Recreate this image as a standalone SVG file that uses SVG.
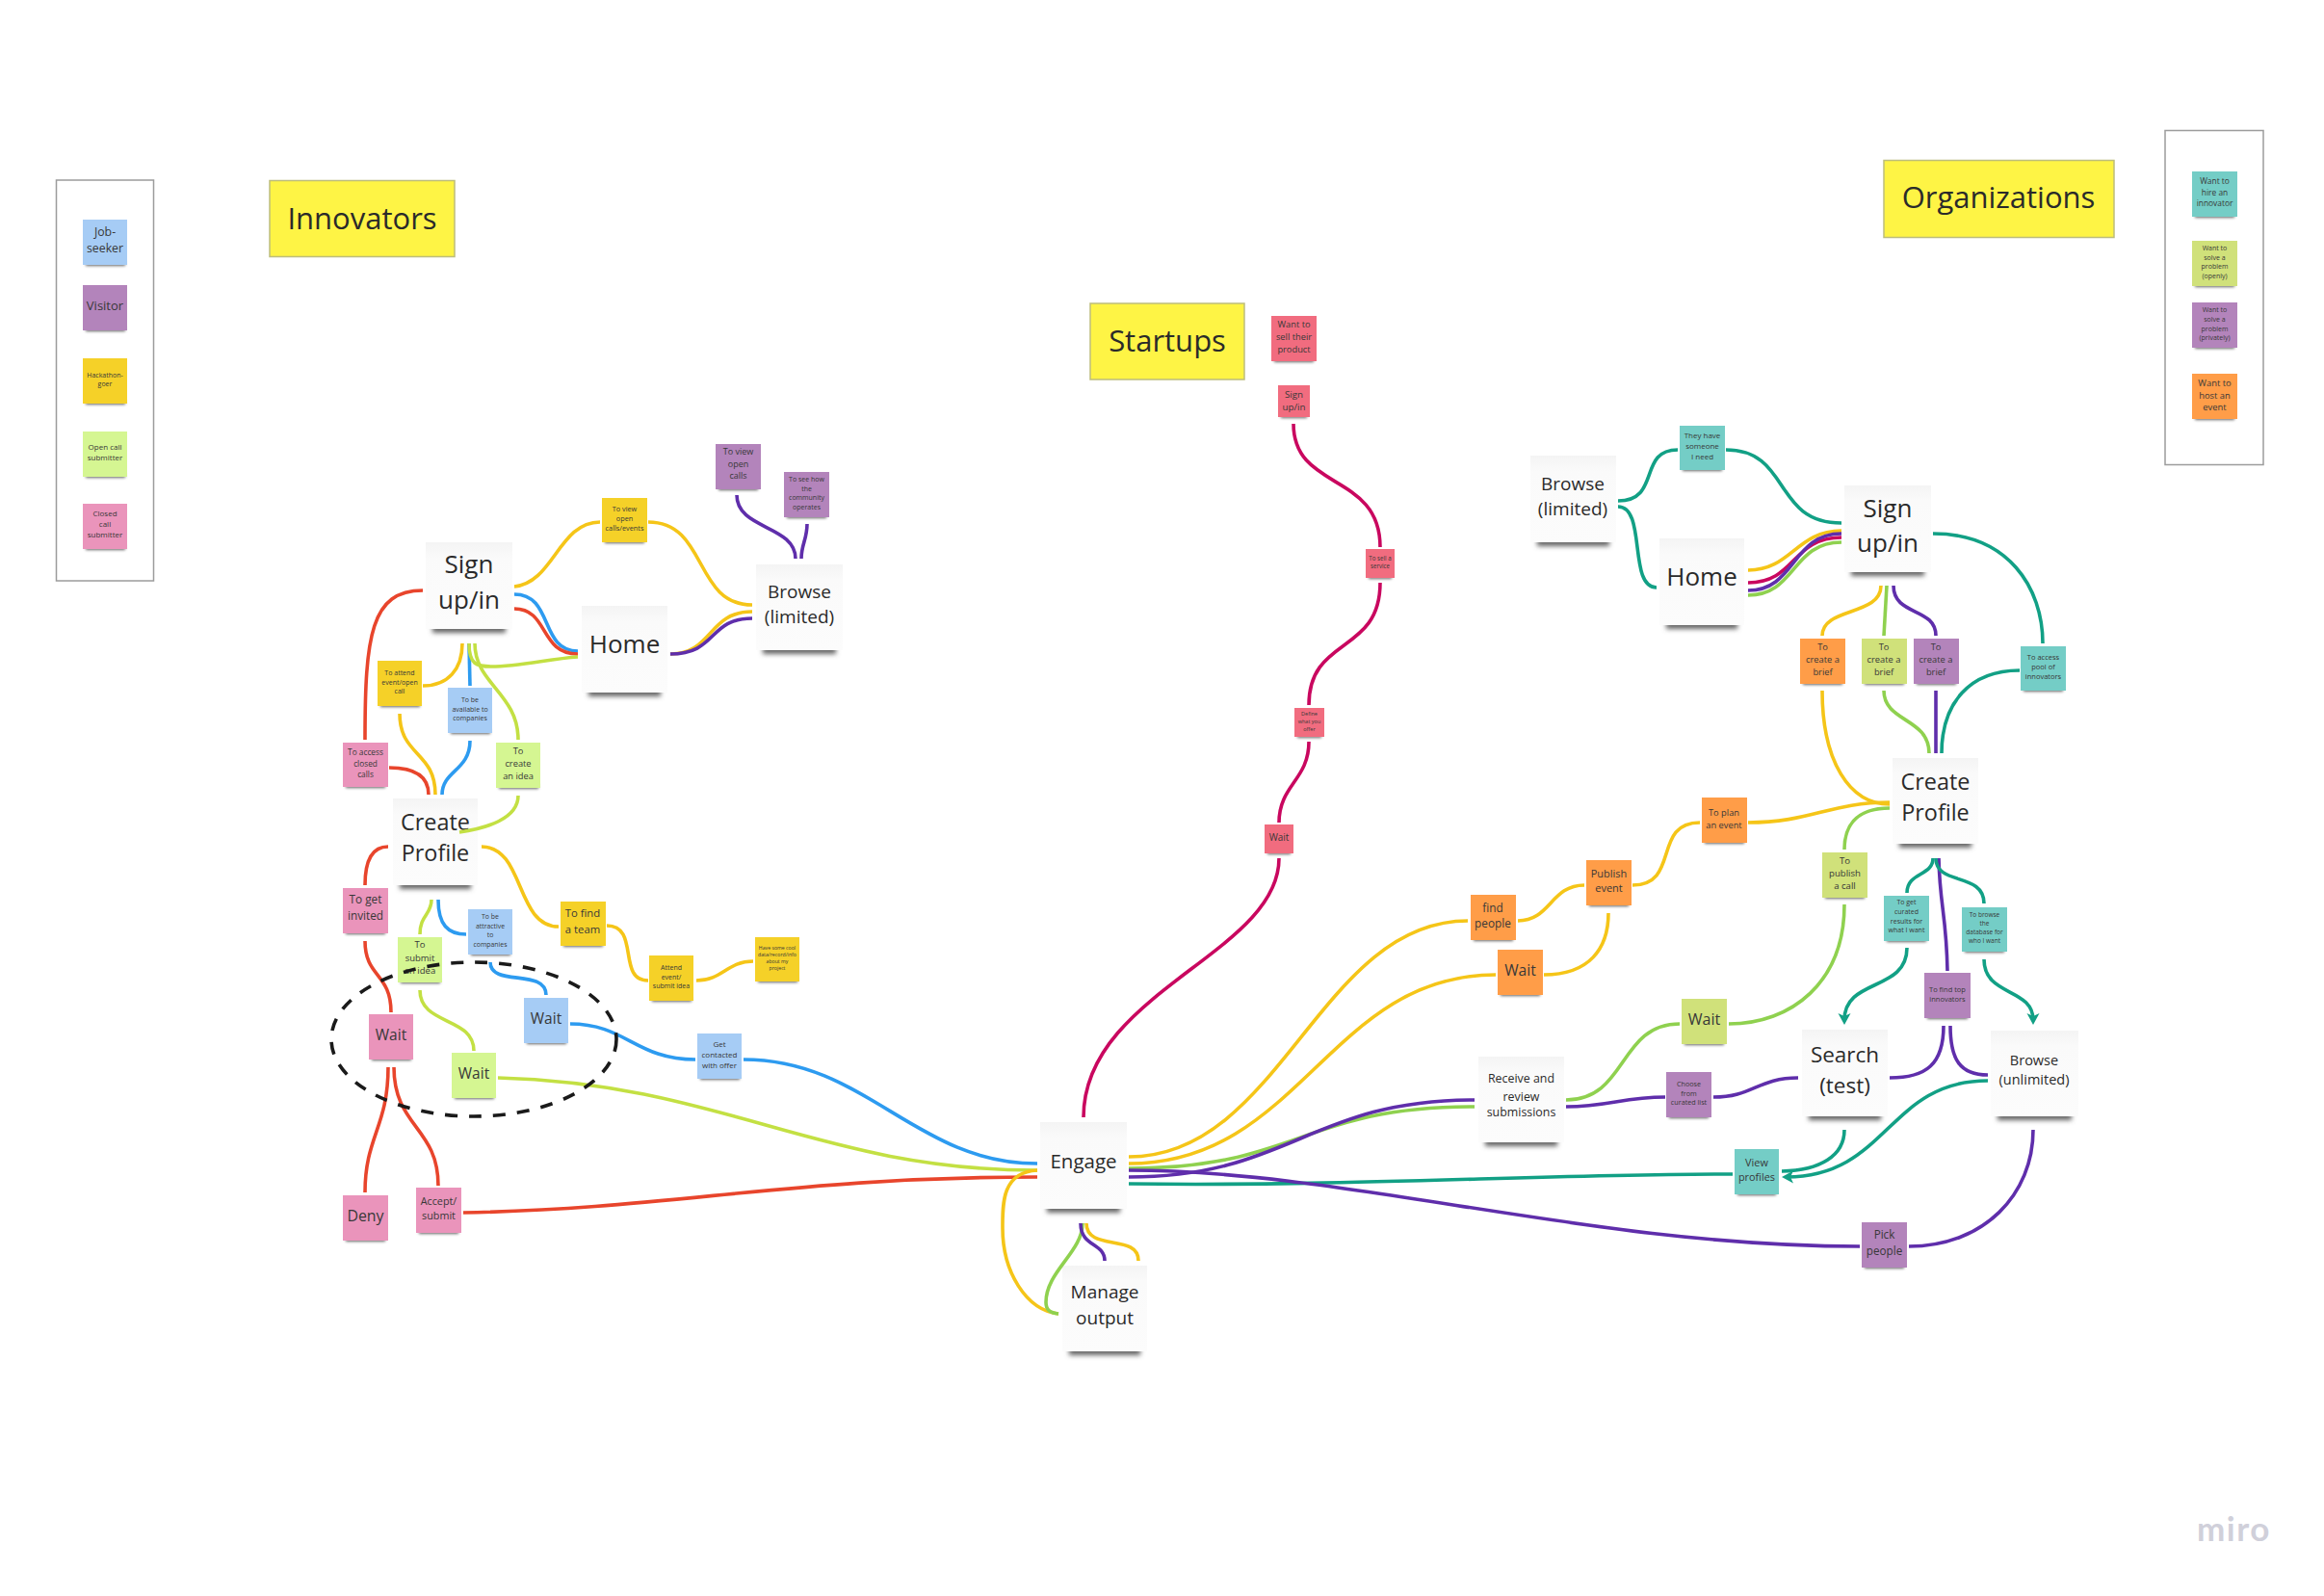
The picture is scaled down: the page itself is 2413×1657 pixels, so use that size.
<svg xmlns="http://www.w3.org/2000/svg" width="2413" height="1657" viewBox="0 0 2413 1657">
<style>
text{font-family:"Open Sans","Noto Sans","DejaVu Sans",sans-serif;text-anchor:middle;fill:#2a2a2a}
.st text{fill:#383838}
.sh{fill:#666;filter:url(#b)}
.sh2{fill:#666;filter:url(#b2)}
.c{fill:none;stroke-width:3.6;stroke-linecap:butt}
.y{stroke:#f5c518}.bl{stroke:#2d9bf0}.r{stroke:#e8452c}.l{stroke:#c3e043}.g{stroke:#8fd14f}.p{stroke:#5f2eab}.t{stroke:#12a085}.m{stroke:#c9075f}
.fb{fill:#a6ccf5}.fv{fill:#b384bb}.fy{fill:#f5d128}.fg{fill:#d5f692}.fk{fill:#ea94bb}.fc{fill:#f16c7f}.ft{fill:#74cdc6}.fl{fill:#d0e17a}.fo{fill:#ff9d48}
.w{fill:url(#wg)}
.title{fill:#fef445;stroke:#bdbd7c;stroke-width:1.5}
.leg{fill:#fff;stroke:#9c9c9c;stroke-width:1.5}
</style>
<defs>
<filter id="b" x="-20%" y="-200%" width="140%" height="500%"><feGaussianBlur stdDeviation="1.5"/></filter>
<filter id="b2" x="-20%" y="-200%" width="140%" height="500%"><feGaussianBlur stdDeviation="2.8"/></filter>
<linearGradient id="wg" x1="0" y1="0" x2="0" y2="1"><stop offset="0" stop-color="#f4f4f4"/><stop offset=".18" stop-color="#fafafa"/><stop offset="1" stop-color="#fcfcfc"/></linearGradient>
<marker id="arr" markerUnits="userSpaceOnUse" markerWidth="14" markerHeight="14" refX="7" refY="6.5" orient="auto"><path d="M0 0L12 6.5L0 13L3 6.5Z" fill="#12a085"/></marker>
</defs>
<rect width="2413" height="1657" fill="#fff"/>

<g id="legend-innovators"><rect class="leg" x="58.5" y="187" width="101" height="416"/></g>
<g id="legend-organizations"><rect class="leg" x="2248" y="135.5" width="102" height="347"/></g>
<g id="title-innovators"><rect class="title" x="280" y="187.5" width="192" height="79"/><text x="376" y="237.5" font-size="31">Innovators</text></g>
<g id="title-startups"><rect class="title" x="1132" y="315" width="160" height="79"/><text x="1212" y="365" font-size="31">Startups</text></g>
<g id="title-organizations"><rect class="title" x="1956" y="166.5" width="239" height="80"/><text x="2075" y="216" font-size="31">Organizations</text></g>

<g class="st">
<g id="leg-jobseeker"><rect class="sh" x="89" y="272" width="41" height="4"/><rect class="fb" x="86" y="228" width="46" height="47"/><text font-size="12.3"><tspan x="109" y="245">Job-</tspan><tspan x="109" y="262">seeker</tspan></text></g>
<g id="leg-visitor"><rect class="sh" x="89" y="340" width="41" height="4"/><rect class="fv" x="86" y="296" width="46" height="47"/><text font-size="13" x="109" y="322">Visitor</text></g>
<g id="leg-hackathon"><rect class="sh" x="89" y="416" width="41" height="4"/><rect class="fy" x="86" y="372" width="46" height="47"/><text font-size="7"><tspan x="109" y="392">Hackathon-</tspan><tspan x="109" y="401">goer</tspan></text></g>
<g id="leg-open"><rect class="sh" x="89" y="492" width="41" height="4"/><rect class="fg" x="86" y="448" width="46" height="47"/><text font-size="8"><tspan x="109" y="467">Open call</tspan><tspan x="109" y="478">submitter</tspan></text></g>
<g id="leg-closed"><rect class="sh" x="89" y="567" width="41" height="4"/><rect class="fk" x="86" y="523" width="46" height="47"/><text font-size="8"><tspan x="109" y="536">Closed</tspan><tspan x="109" y="547">call</tspan><tspan x="109" y="558">submitter</tspan></text></g>

<g id="i-view-calls"><rect class="sh" x="628" y="560" width="41" height="4"/><rect class="fy" x="625" y="517" width="47" height="46"/><text font-size="7.3"><tspan x="648.5" y="531">To view</tspan><tspan x="648.5" y="541">open</tspan><tspan x="648.5" y="551">calls/events</tspan></text></g>
<g id="i-see-community"><rect class="sh" x="817" y="534" width="41" height="4"/><rect class="fv" x="814" y="490" width="47" height="47"/><text font-size="7"><tspan x="837.5" y="500">To see how</tspan><tspan x="837.5" y="509.5">the</tspan><tspan x="837.5" y="519">community</tspan><tspan x="837.5" y="529">operates</tspan></text></g>
<g id="i-view-open"><rect class="sh" x="746" y="505" width="41" height="4"/><rect class="fv" x="743" y="461" width="47" height="47"/><text font-size="9"><tspan x="766.5" y="472">To view</tspan><tspan x="766.5" y="484.5">open</tspan><tspan x="766.5" y="497">calls</tspan></text></g>
<g id="i-attend"><rect class="sh" x="395" y="730" width="41" height="4"/><rect class="fy" x="392" y="686" width="46" height="47"/><text font-size="7"><tspan x="415" y="701">To attend</tspan><tspan x="415" y="711">event/open</tspan><tspan x="415" y="720">call</tspan></text></g>
<g id="i-available"><rect class="sh" x="468" y="758" width="41" height="4"/><rect class="fb" x="465" y="714" width="46" height="47"/><text font-size="7"><tspan x="488" y="729">To be</tspan><tspan x="488" y="739">available to</tspan><tspan x="488" y="748">companies</tspan></text></g>
<g id="i-create-idea"><rect class="sh" x="518" y="815" width="41" height="4"/><rect class="fg" x="515" y="771" width="46" height="47"/><text font-size="9.3"><tspan x="538" y="783">To</tspan><tspan x="538" y="796">create</tspan><tspan x="538" y="809">an idea</tspan></text></g>
<g id="i-access"><rect class="sh" x="359" y="814" width="41" height="4"/><rect class="fk" x="356" y="771" width="47" height="46"/><text font-size="8.3"><tspan x="379.5" y="784">To access</tspan><tspan x="379.5" y="796">closed</tspan><tspan x="379.5" y="807">calls</tspan></text></g>
<g id="i-invited"><rect class="sh" x="359" y="966" width="41" height="4"/><rect class="fk" x="356" y="922" width="47" height="47"/><text font-size="11.8"><tspan x="379.5" y="938">To get</tspan><tspan x="379.5" y="955">invited</tspan></text></g>
<g id="i-team"><rect class="sh" x="585" y="979" width="41" height="4"/><rect class="fy" x="582" y="936" width="47" height="46"/><text font-size="11.3"><tspan x="605" y="952">To find</tspan><tspan x="605" y="969">a team</tspan></text></g>
<g id="i-attractive"><rect class="sh" x="489" y="988" width="41" height="4"/><rect class="fb" x="486" y="944" width="46" height="47"/><text font-size="6.9"><tspan x="509" y="954">To be</tspan><tspan x="509" y="964">attractive</tspan><tspan x="509" y="973">to</tspan><tspan x="509" y="983">companies</tspan></text></g>
<g id="i-submit"><rect class="sh" x="416" y="1017" width="41" height="4"/><rect class="fg" x="413" y="973" width="46" height="47"/><text font-size="9.5"><tspan x="436" y="984">To</tspan><tspan x="436" y="998">submit</tspan><tspan x="436" y="1011">an idea</tspan></text></g>
<g id="i-wait-pink"><rect class="sh" x="386" y="1097" width="41" height="4"/><rect class="fk" x="383" y="1053" width="46" height="47"/><text font-size="15.5" x="406" y="1080">Wait</text></g>
<g id="i-wait-blue"><rect class="sh" x="547" y="1080" width="41" height="4"/><rect class="fb" x="544" y="1036" width="46" height="47"/><text font-size="15.5" x="567" y="1063">Wait</text></g>
<g id="i-wait-green"><rect class="sh" x="472" y="1137" width="41" height="4"/><rect class="fg" x="469" y="1093" width="46" height="47"/><text font-size="15.5" x="492" y="1120">Wait</text></g>
<g id="i-attend-event"><rect class="sh" x="677" y="1036" width="41" height="4"/><rect class="fy" x="674" y="992" width="46" height="47"/><text font-size="7"><tspan x="697" y="1007">Attend</tspan><tspan x="697" y="1017">event/</tspan><tspan x="697" y="1026">submit idea</tspan></text></g>
<g id="i-cool"><rect class="sh" x="787" y="1016" width="41" height="4"/><rect class="fy" x="784" y="973" width="46" height="46"/><text font-size="5.2"><tspan x="807" y="986">Have some cool</tspan><tspan x="807" y="993">data/record/info</tspan><tspan x="807" y="1000">about my</tspan><tspan x="807" y="1007">project</tspan></text></g>
<g id="i-contacted"><rect class="sh" x="727" y="1117" width="41" height="4"/><rect class="fb" x="724" y="1073" width="46" height="47"/><text font-size="8"><tspan x="747" y="1087">Get</tspan><tspan x="747" y="1098">contacted</tspan><tspan x="747" y="1109">with offer</tspan></text></g>
<g id="i-deny"><rect class="sh" x="359" y="1285" width="41" height="4"/><rect class="fk" x="356" y="1241" width="47" height="47"/><text font-size="15.9" x="379.5" y="1268">Deny</text></g>
<g id="i-accept"><rect class="sh" x="435" y="1277" width="41" height="4"/><rect class="fk" x="432" y="1233" width="47" height="47"/><text font-size="10.8"><tspan x="455.5" y="1251">Accept/</tspan><tspan x="455.5" y="1266">submit</tspan></text></g>

<g id="s-sell"><rect class="sh" x="1323" y="372" width="41" height="4"/><rect class="fc" x="1320" y="328" width="47" height="47"/><text font-size="9.3"><tspan x="1343.5" y="340">Want to</tspan><tspan x="1343.5" y="353">sell their</tspan><tspan x="1343.5" y="366">product</tspan></text></g>
<g id="s-sign"><rect class="sh" x="1330" y="431" width="27" height="3"/><rect class="fc" x="1327" y="400" width="33" height="33"/><text font-size="9.8"><tspan x="1343.5" y="413">Sign</tspan><tspan x="1343.5" y="426">up/in</tspan></text></g>
<g id="s-service"><rect class="sh" x="1421" y="598" width="24" height="3"/><rect class="fc" x="1418" y="570" width="30" height="30"/><text font-size="6.2"><tspan x="1433" y="582">To sell a</tspan><tspan x="1433" y="590">service</tspan></text></g>
<g id="s-define"><rect class="sh" x="1347" y="763" width="25" height="3"/><rect class="fc" x="1344" y="735" width="31" height="30"/><text font-size="5.5"><tspan x="1359.5" y="743">Define</tspan><tspan x="1359.5" y="751">what you</tspan><tspan x="1359.5" y="758.5">offer</tspan></text></g>
<g id="s-wait"><rect class="sh" x="1316" y="884" width="24" height="3"/><rect class="fc" x="1313" y="856" width="30" height="30"/><text font-size="9.9" x="1328" y="873">Wait</text></g>

<g id="o-leg-hire"><rect class="sh" x="2279" y="222" width="41" height="4"/><rect class="ft" x="2276" y="178" width="47" height="47"/><text font-size="8.4"><tspan x="2299.5" y="191">Want to</tspan><tspan x="2299.5" y="203">hire an</tspan><tspan x="2299.5" y="214">innovator</tspan></text></g>
<g id="o-leg-openly"><rect class="sh" x="2279" y="294" width="41" height="4"/><rect class="fl" x="2276" y="250" width="47" height="47"/><text font-size="7"><tspan x="2299.5" y="260">Want to</tspan><tspan x="2299.5" y="270">solve a</tspan><tspan x="2299.5" y="279">problem</tspan><tspan x="2299.5" y="289">(openly)</tspan></text></g>
<g id="o-leg-private"><rect class="sh" x="2279" y="358" width="41" height="4"/><rect class="fv" x="2276" y="314" width="47" height="47"/><text font-size="7"><tspan x="2299.5" y="324">Want to</tspan><tspan x="2299.5" y="334">solve a</tspan><tspan x="2299.5" y="344">problem</tspan><tspan x="2299.5" y="353">(privately)</tspan></text></g>
<g id="o-leg-host"><rect class="sh" x="2279" y="432" width="41" height="4"/><rect class="fo" x="2276" y="388" width="47" height="47"/><text font-size="9.4"><tspan x="2299.5" y="401">Want to</tspan><tspan x="2299.5" y="414">host an</tspan><tspan x="2299.5" y="426">event</tspan></text></g>

<g id="o-someone"><rect class="sh" x="1747" y="485" width="41" height="4"/><rect class="ft" x="1744" y="442" width="47" height="46"/><text font-size="8"><tspan x="1767.5" y="455">They have</tspan><tspan x="1767.5" y="466">someone</tspan><tspan x="1767.5" y="477">I need</tspan></text></g>
<g id="o-brief-orange"><rect class="sh" x="1872" y="707" width="41" height="4"/><rect class="fo" x="1869" y="663" width="47" height="47"/><text font-size="9.3"><tspan x="1892.5" y="675">To</tspan><tspan x="1892.5" y="688">create a</tspan><tspan x="1892.5" y="701">brief</tspan></text></g>
<g id="o-brief-green"><rect class="sh" x="1936" y="707" width="41" height="4"/><rect class="fl" x="1933" y="663" width="47" height="47"/><text font-size="9.3"><tspan x="1956" y="675">To</tspan><tspan x="1956" y="688">create a</tspan><tspan x="1956" y="701">brief</tspan></text></g>
<g id="o-brief-purple"><rect class="sh" x="1990" y="707" width="41" height="4"/><rect class="fv" x="1987" y="663" width="47" height="47"/><text font-size="9.3"><tspan x="2010" y="675">To</tspan><tspan x="2010" y="688">create a</tspan><tspan x="2010" y="701">brief</tspan></text></g>
<g id="o-pool"><rect class="sh" x="2101" y="714" width="41" height="4"/><rect class="ft" x="2098" y="671" width="47" height="46"/><text font-size="7.5"><tspan x="2121.5" y="685">To access</tspan><tspan x="2121.5" y="695">pool of</tspan><tspan x="2121.5" y="705">innovators</tspan></text></g>
<g id="o-plan"><rect class="sh" x="1770" y="872" width="41" height="4"/><rect class="fo" x="1767" y="828" width="47" height="47"/><text font-size="9.3"><tspan x="1790" y="847">To plan</tspan><tspan x="1790" y="860">an event</tspan></text></g>
<g id="o-publish"><rect class="sh" x="1650" y="937" width="41" height="4"/><rect class="fo" x="1647" y="893" width="47" height="47"/><text font-size="11"><tspan x="1670.5" y="911">Publish</tspan><tspan x="1670.5" y="926">event</tspan></text></g>
<g id="o-find"><rect class="sh" x="1530" y="973" width="41" height="4"/><rect class="fo" x="1527" y="929" width="47" height="47"/><text font-size="11.8"><tspan x="1550" y="947">find</tspan><tspan x="1550" y="963">people</tspan></text></g>
<g id="o-wait-orange"><rect class="sh" x="1558" y="1030" width="41" height="4"/><rect class="fo" x="1555" y="986" width="47" height="47"/><text font-size="15.6" x="1578.5" y="1013">Wait</text></g>
<g id="o-call"><rect class="sh" x="1895" y="929" width="41" height="4"/><rect class="fl" x="1892" y="885" width="47" height="47"/><text font-size="9.6"><tspan x="1915.5" y="897">To</tspan><tspan x="1915.5" y="910">publish</tspan><tspan x="1915.5" y="923">a call</tspan></text></g>
<g id="o-curated"><rect class="sh" x="1959" y="974" width="41" height="4"/><rect class="ft" x="1956" y="930" width="47" height="47"/><text font-size="7"><tspan x="1979.5" y="939">To get</tspan><tspan x="1979.5" y="949">curated</tspan><tspan x="1979.5" y="959">results for</tspan><tspan x="1979.5" y="968">what I want</tspan></text></g>
<g id="o-database"><rect class="sh" x="2040" y="985" width="41" height="4"/><rect class="ft" x="2037" y="942" width="47" height="46"/><text font-size="6.5"><tspan x="2060.5" y="952">To browse</tspan><tspan x="2060.5" y="961">the</tspan><tspan x="2060.5" y="970">database for</tspan><tspan x="2060.5" y="979">who I want</tspan></text></g>
<g id="o-top"><rect class="sh" x="2001" y="1054" width="42" height="4"/><rect class="fv" x="1998" y="1010" width="48" height="47"/><text font-size="7.5"><tspan x="2022" y="1030">To find top</tspan><tspan x="2022" y="1040">innovators</tspan></text></g>
<g id="o-wait-green"><rect class="sh" x="1749" y="1081" width="41" height="4"/><rect class="fl" x="1746" y="1037" width="47" height="47"/><text font-size="16" x="1769.5" y="1064">Wait</text></g>
<g id="o-choose"><rect class="sh" x="1733" y="1157" width="41" height="4"/><rect class="fv" x="1730" y="1113" width="47" height="47"/><text font-size="7.2"><tspan x="1753.5" y="1128">Choose</tspan><tspan x="1753.5" y="1138">from</tspan><tspan x="1753.5" y="1147">curated list</tspan></text></g>
<g id="o-view"><rect class="sh" x="1804" y="1237" width="40" height="4"/><rect class="ft" x="1801" y="1193" width="46" height="47"/><text font-size="10.9"><tspan x="1824" y="1211">View</tspan><tspan x="1824" y="1226">profiles</tspan></text></g>
<g id="o-pick"><rect class="sh" x="1936" y="1313" width="41" height="4"/><rect class="fv" x="1933" y="1269" width="47" height="47"/><text font-size="11.7"><tspan x="1956.5" y="1286">Pick</tspan><tspan x="1956.5" y="1303">people</tspan></text></g>
</g>

<g id="card-i-sign"><rect class="sh2" x="449" y="648" width="76" height="9"/><rect class="w" x="442" y="563" width="90" height="90"/><text font-size="26"><tspan x="487" y="595">Sign</tspan><tspan x="487" y="632">up/in</tspan></text></g>
<g id="card-i-home"><rect class="sh2" x="611" y="714" width="75" height="9"/><rect class="w" x="604" y="629" width="89" height="90"/><text font-size="26" x="648.5" y="678">Home</text></g>
<g id="card-i-browse"><rect class="sh2" x="792" y="670" width="76" height="9"/><rect class="w" x="785" y="586" width="90" height="89"/><text font-size="19"><tspan x="830" y="621">Browse</tspan><tspan x="830" y="647">(limited)</tspan></text></g>
<g id="card-i-create"><rect class="sh2" x="415" y="914" width="74" height="9"/><rect class="w" x="408" y="829" width="88" height="90"/><text font-size="23.4"><tspan x="452" y="862">Create</tspan><tspan x="452" y="894">Profile</tspan></text></g>
<g id="card-engage"><rect class="sh2" x="1087" y="1250" width="76" height="9"/><rect class="w" x="1080" y="1165" width="90" height="90"/><text font-size="20.5" x="1125" y="1213">Engage</text></g>
<g id="card-manage"><rect class="sh2" x="1110" y="1398" width="74" height="9"/><rect class="w" x="1103" y="1314" width="88" height="89"/><text font-size="19"><tspan x="1147" y="1348">Manage</tspan><tspan x="1147" y="1375">output</tspan></text></g>
<g id="card-o-browse"><rect class="sh2" x="1596" y="558" width="75" height="9"/><rect class="w" x="1589" y="473" width="89" height="90"/><text font-size="19"><tspan x="1633" y="509">Browse</tspan><tspan x="1633" y="535">(limited)</tspan></text></g>
<g id="card-o-home"><rect class="sh2" x="1730" y="644" width="74" height="9"/><rect class="w" x="1723" y="559" width="88" height="90"/><text font-size="26" x="1767" y="608">Home</text></g>
<g id="card-o-sign"><rect class="sh2" x="1922" y="589" width="76" height="9"/><rect class="w" x="1915" y="504" width="90" height="90"/><text font-size="26"><tspan x="1960" y="537">Sign</tspan><tspan x="1960" y="573">up/in</tspan></text></g>
<g id="card-o-create"><rect class="sh2" x="1972" y="871" width="75" height="9"/><rect class="w" x="1965" y="787" width="89" height="89"/><text font-size="23.4"><tspan x="2009.5" y="820">Create</tspan><tspan x="2009.5" y="852">Profile</tspan></text></g>
<g id="card-o-search"><rect class="sh2" x="1878" y="1154" width="75" height="9"/><rect class="w" x="1871" y="1069" width="89" height="90"/><text font-size="22.5"><tspan x="1915.5" y="1103">Search</tspan><tspan x="1915.5" y="1135">(test)</tspan></text></g>
<g id="card-o-unlimited"><rect class="sh2" x="2074" y="1154" width="77" height="9"/><rect class="w" x="2067" y="1070" width="91" height="89"/><text font-size="14.5"><tspan x="2112" y="1106">Browse</tspan><tspan x="2112" y="1126">(unlimited)</tspan></text></g>
<g id="card-o-receive"><rect class="sh2" x="1542" y="1181" width="75" height="9"/><rect class="w" x="1535" y="1097" width="89" height="89"/><text font-size="12.4"><tspan x="1579.5" y="1124">Receive and</tspan><tspan x="1579.5" y="1143">review</tspan><tspan x="1579.5" y="1159">submissions</tspan></text></g>

<g id="connectors">
<path class="c y" d="M534 609C575 605 580 542 623 542"/>
<path class="c y" d="M673 542C735 542 720 628 781 628"/>
<path class="c bl" d="M534 617C575 617 560 676 600 676"/>
<path class="c r" d="M534 632C570 632 560 679 600 679"/>
<path class="c y" d="M696 679C740 679 735 635 781 635"/>
<path class="c p" d="M696 679C745 679 735 642 781 642"/>
<path class="c p" d="M765 514C765 550 826 545 826 580"/>
<path class="c p" d="M838 544C838 560 832 565 832 580"/>
<path class="c r" d="M439 613C385 613 379 660 379 768"/>
<path class="c y" d="M480 668C480 695 465 712 439 712"/>
<path class="c bl" d="M487 668L488 712"/>
<path class="c l" d="M487 668C487 690 495 692 510 692C540 692 570 684 600 682"/>
<path class="c l" d="M493 668C493 710 538 720 538 768"/>
<path class="c y" d="M415 741C415 785 452 780 452 825"/>
<path class="c r" d="M404 797C430 797 445 805 445 825"/>
<path class="c bl" d="M488 769C488 800 459 800 459 825"/>
<path class="c l" d="M538 826C538 850 505 860 477 864"/>
<path class="c r" d="M403 879C385 879 379 895 379 919"/>
<path class="c y" d="M500 879C545 879 535 962 580 962"/>
<path class="c y" d="M630 961C665 961 640 1018 673 1018"/>
<path class="c y" d="M723 1018C750 1018 755 998 782 998"/>
<path class="c l" d="M448 934C448 950 436 950 436 970"/>
<path class="c bl" d="M455 934C455 960 465 970 484 970"/>
<path class="c bl" d="M509 999C509 1025 567 1005 567 1033"/>
<path class="c l" d="M436 1028C436 1065 492 1055 492 1091"/>
<path class="c r" d="M379 977C379 1015 406 1010 406 1051"/>
<path class="c r" d="M403 1108C403 1170 379 1180 379 1238"/>
<path class="c r" d="M409 1108C409 1170 455 1170 455 1231"/>
<path class="c bl" d="M592 1063C650 1063 660 1100 722 1100"/>
<path class="c bl" d="M772 1100C900 1100 950 1208 1077 1208"/>
<path class="c l" d="M517 1119C750 1125 850 1215 1077 1215"/>
<path class="c r" d="M481 1259C700 1255 820 1222 1077 1222"/>
<path class="c y" d="M1077 1215C1040 1217 1041 1250 1041 1275C1041 1320 1065 1360 1099 1364"/>
<path class="c g" d="M1124 1270C1124 1300 1086 1320 1086 1352C1086 1360 1090 1363 1099 1364"/>
<path class="c p" d="M1122 1270C1122 1295 1147 1290 1147 1309"/>
<path class="c y" d="M1128 1270C1128 1300 1182 1280 1182 1309"/>
<path class="c y" d="M1172 1201C1330 1201 1370 956 1524 956"/>
<path class="c y" d="M1172 1208C1350 1208 1380 1012 1553 1012"/>
<path class="c g" d="M1172 1213C1350 1213 1350 1149 1531 1149"/>
<path class="c p" d="M1172 1222C1340 1222 1360 1142 1531 1142"/>
<path class="c t" d="M1172 1229C1400 1232 1600 1219 1799 1219"/>
<path class="c p" d="M1172 1215C1400 1215 1650 1294 1931 1294"/>
<path class="c m" d="M1343 440C1343 510 1433 490 1433 568"/>
<path class="c m" d="M1433 605C1433 680 1359 660 1359 732"/>
<path class="c m" d="M1359 770C1359 810 1328 815 1328 854"/>
<path class="c m" d="M1328 891C1328 990 1125 1030 1125 1160"/>
<path class="c t" d="M1680 520C1725 520 1700 467 1742 467"/>
<path class="c t" d="M1792 467C1860 467 1840 543 1912 543"/>
<path class="c t" d="M1680 526C1710 526 1690 610 1720 610"/>
<path class="c y" d="M1815 592C1860 592 1865 551 1912 551"/>
<path class="c m" d="M1815 605C1865 605 1860 558 1912 558"/>
<path class="c p" d="M1815 613C1865 613 1860 554 1912 554"/>
<path class="c g" d="M1815 618C1865 618 1860 563 1912 563"/>
<path class="c t" d="M2007 554C2085 554 2121 610 2121 668"/>
<path class="c t" d="M2097 696C2045 696 2016 730 2016 782"/>
<path class="c y" d="M1953 608C1953 640 1892 630 1892 660"/>
<path class="c g" d="M1959 608L1956 660"/>
<path class="c p" d="M1966 608C1966 640 2010 630 2010 660"/>
<path class="c y" d="M1892 717C1892 790 1920 835 1962 835"/>
<path class="c g" d="M1956 717C1956 750 2003 745 2003 782"/>
<path class="c p" d="M2010 717V782"/>
<path class="c y" d="M1815 854C1880 854 1900 833 1962 833"/>
<path class="c y" d="M1695 919C1745 919 1715 854 1765 854"/>
<path class="c y" d="M1576 956C1610 956 1610 919 1645 919"/>
<path class="c y" d="M1603 1012C1650 1012 1670 985 1670 948"/>
<path class="c g" d="M1915 882C1915 860 1925 839 1962 839"/>
<path class="c g" d="M1915 939C1915 1020 1860 1063 1795 1063"/>
<path class="c g" d="M1744 1063C1680 1063 1690 1142 1626 1142"/>
<path class="c p" d="M1626 1149C1670 1149 1685 1139 1729 1139"/>
<path class="c p" d="M1779 1139C1820 1139 1825 1119 1867 1119"/>
<path class="c p" d="M1962 1119C2000 1119 2018 1105 2018 1065"/>
<path class="c p" d="M2025 1065C2025 1100 2035 1116 2064 1116"/>
<path class="c p" d="M2013 891C2014 940 2021 950 2022 1008"/>
<path class="c t" d="M2007 891C2007 910 1980 905 1980 927"/>
<path class="c t" d="M2010 891C2010 920 2060 905 2060 938"/>
<path class="c t" marker-end="url(#arr)" d="M1980 984C1980 1030 1915 1015 1915 1059"/>
<path class="c t" marker-end="url(#arr)" d="M2060 996C2060 1035 2111 1025 2111 1059"/>
<path class="c t" d="M1915 1173C1915 1200 1890 1215 1850 1216"/>
<path class="c t" marker-end="url(#arr)" d="M2064 1122C1960 1122 1960 1222 1855 1222"/>
<path class="c p" d="M2111 1173C2111 1240 2060 1294 1982 1294"/>
</g>
<g id="dashed-ellipse"><ellipse cx="492" cy="1079" rx="148" ry="80" fill="none" stroke="#1a1a1a" stroke-width="3.6" stroke-dasharray="13 12"/></g>
<g id="logo"><text x="2319.5" y="1600" font-size="35" font-weight="700" letter-spacing="1.5" style="font-family:Lato,'Open Sans',sans-serif;fill:#d0d0da">miro</text></g>
</svg>
